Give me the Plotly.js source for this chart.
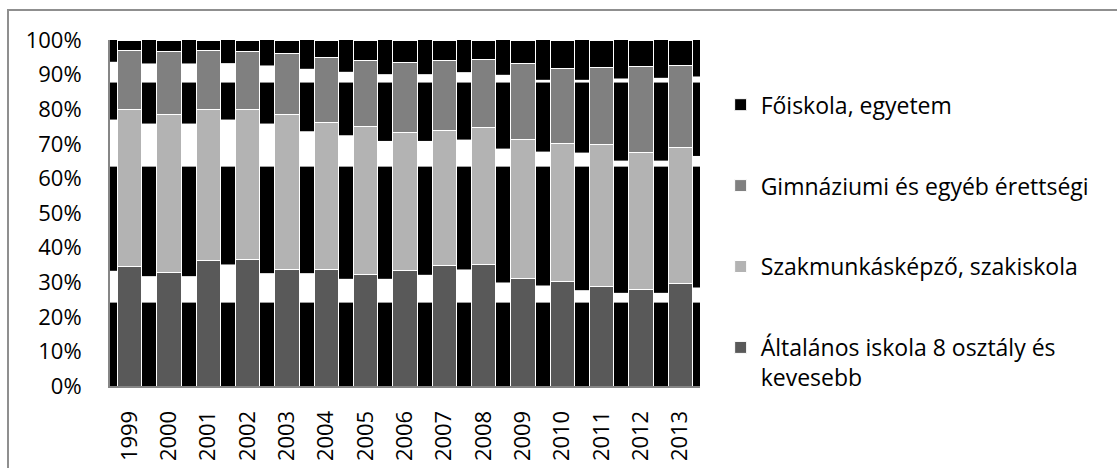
<!DOCTYPE html>
<html>
<head>
<meta charset="utf-8">
<script src="https://cdn.plot.ly/plotly-3.0.1.min.js"></script>
<style>
  html, body { margin: 0; padding: 0; background: #ffffff; }
  #frame { position: absolute; left: 7px; top: 9px; width: 1200px; height: 600px;
           border-left: 2px solid #8f8f8f; border-top: 2px solid #8f8f8f; }
  #chart { position: absolute; left: 0; top: 0; width: 1117px; height: 468px; }
</style>
</head>
<body>
<div id="frame"></div>
<div id="chart"></div>
<script>
// Years (categories)
const years = ['1999','2000','2001','2002','2003','2004','2005','2006','2007','2008','2009','2010','2011','2012','2013'];

// Shares in percent
const altalanos  = [34.5, 32.9, 36.4, 36.7, 33.8, 33.8, 32.1, 33.3, 34.9, 35.2, 31.0, 30.1, 28.7, 27.9, 29.5];
const szakmunkas = [45.3, 45.7, 43.4, 43.3, 44.8, 42.5, 43.0, 40.1, 38.9, 39.5, 40.1, 40.1, 41.2, 39.6, 39.4];
const gimnazium  = [17.3, 18.0, 17.3, 16.7, 17.4, 18.7, 19.0, 20.0, 20.2, 19.6, 22.1, 21.5, 22.2, 24.8, 23.8];
const foiskola   = [ 2.9,  3.4,  2.9,  3.3,  4.0,  5.0,  5.9,  6.6,  6.0,  5.7,  6.8,  8.3,  7.9,  7.7,  7.3];

const seriesNames = ['Általános iskola 8 osztály és<br>kevesebb', 'Szakmunkásképző, szakiskola', 'Gimnáziumi és egyéb érettségi', 'Főiskola, egyetem'];
const yTickVals = [0,10,20,30,40,50,60,70,80,90,100];
const yTickText = ['0%','10%','20%','30%','40%','50%','60%','70%','80%','90%','100%'];

const FONT = 'Open Sans, sans-serif';
const colors = ['#595959', '#b3b3b3', '#808080', '#000000'];
const seriesData = [altalanos, szakmunkas, gimnazium, foiskola];

const traces = seriesData.map((vals, i) => ({
  type: 'bar',
  x: years,
  y: vals,
  name: seriesNames[i],
  legendgroup: 'g' + i,
  legendrank: 10 - i,
  marker: { color: colors[i], line: { color: '#ffffff', width: 1 } },
  hoverinfo: 'skip'
}));

// Background artifact: white bands in the gaps between bars (black plot background)
const bargap = 0.385;
const w = 1 - bargap;
const cumDark = altalanos.slice();
const cumLight = altalanos.map((v, i) => v + szakmunkas[i]);
const cumGray = cumLight.map((v, i) => v + gimnazium[i]);
const bands = [[24.1, cumDark], [63.4, cumLight], [87.7, cumGray]];
const shapes = [];
for (let k = 0; k <= years.length; k++) {
  const x0 = k === 0 ? -0.5 : (k - 1) + w / 2;
  const x1 = k === years.length ? years.length - 0.5 : k - w / 2;
  bands.forEach(([bottom, cum]) => {
    const nb = [];
    if (k > 0) nb.push(cum[k - 1]);
    if (k < years.length) nb.push(cum[k]);
    const top = Math.min(...nb) * 0.965;
    shapes.push({ type: 'rect', xref: 'x', yref: 'y', layer: 'below',
      x0: x0, x1: x1, y0: bottom, y1: Math.max(top, bottom),
      fillcolor: '#ffffff', line: { width: 0 } });
  });
}

const layout = {
  width: 1117, height: 468,
  margin: { l: 110, r: 417, t: 40, b: 82 },
  paper_bgcolor: 'rgba(0,0,0,0)',
  plot_bgcolor: '#000000',
  barmode: 'stack',
  bargap: bargap,
  font: { family: FONT, size: 22, color: '#000000' },
  showlegend: true,
  legend: {
    x: 1.035, xanchor: 'left', y: 0.875, yanchor: 'top',
    traceorder: 'grouped', tracegroupgap: 48, valign: 'top',
    font: { family: FONT, size: 23, color: '#000000' },
    bgcolor: 'rgba(0,0,0,0)'
  },
  xaxis: {
    type: 'category', range: [-0.5, 14.5],
    tickangle: -90, ticks: '', ticklabelstandoff: 14,
    showline: true, linecolor: '#868686', linewidth: 2,
    showgrid: false, zeroline: false,
    tickfont: { family: FONT, size: 22, color: '#000000' }
  },
  yaxis: {
    range: [0, 100], tickmode: 'array', tickvals: yTickVals, ticktext: yTickText,
    ticks: '', ticklabelstandoff: 22,
    showline: true, linecolor: '#868686', linewidth: 2,
    showgrid: false, zeroline: false,
    tickfont: { family: FONT, size: 22, color: '#000000' }
  },
  shapes: shapes
};

Plotly.newPlot('chart', traces, layout, { displayModeBar: false, staticPlot: true });
</script>
</body>
</html>
